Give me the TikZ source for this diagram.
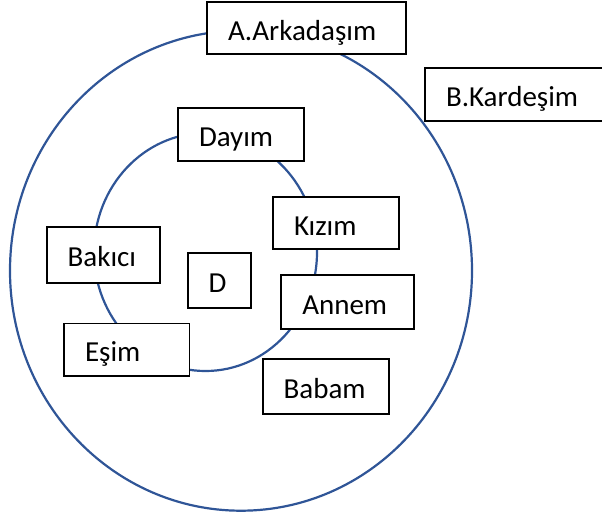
\documentclass[tikz,border=0pt]{standalone}
\usepackage{fontspec}
\setmainfont{Carlito}
\definecolor{ringBlue}{RGB}{47,85,151}
\newcommand{\roleBox}[6]{%%
  \pgfmathsetmacro{\tw}{#4-42}
  \node[boxStyle,minimum width=#4pt,minimum height=#5pt,text width=\tw pt] (#1) at (#2,#3) {#6};
}

\begin{document}
\begin{tikzpicture}[%%
  x=1pt,y=-1pt,%%
  ringStyle/.style={draw=ringBlue,line width=2.2pt},%%
  boxStyle/.style={draw=black,line width=1.7pt,fill=white,inner xsep=21pt,inner ysep=0pt,%%
    align=left,text height=24pt,text depth=0pt,font=\fontsize{29}{34}\selectfont}
]
%%
\useasboundingbox (0,0) rectangle (602,517);
%%
%% The outer and the inner ring.
\draw[ringStyle] (241,270.7) ellipse [x radius=231pt,y radius=240pt];
\draw[ringStyle] (205.5,252) ellipse [x radius=111.5pt,y radius=119pt];
%%
%% The boxes on the outer ring.
\roleBox{arkadasim}{306.5}{28}{199}{52}{A.Arkadaşım}
\roleBox{kardesim}{515}{94.5}{180}{53}{B.Kardeşim}
%%
%% The boxes on the inner ring.
\roleBox{dayim}{241}{134.2}{126}{53}{Dayım}
\roleBox{kizim}{336}{223}{126}{52.6}{Kızım}
\roleBox{bakici}{103.3}{254.7}{113.3}{56}{Bakıcı}
\roleBox{annem}{347.5}{302.3}{132.4}{54}{Annem}
\roleBox{esim}{126.7}{349.7}{125.3}{52.7}{Eşim}
%%
%% The centre and the father.
\roleBox{dBox}{219.2}{280.5}{63}{55.6}{D}
\roleBox{babam}{326}{386.2}{126.6}{55}{Babam}
\end{tikzpicture}
\end{document}
